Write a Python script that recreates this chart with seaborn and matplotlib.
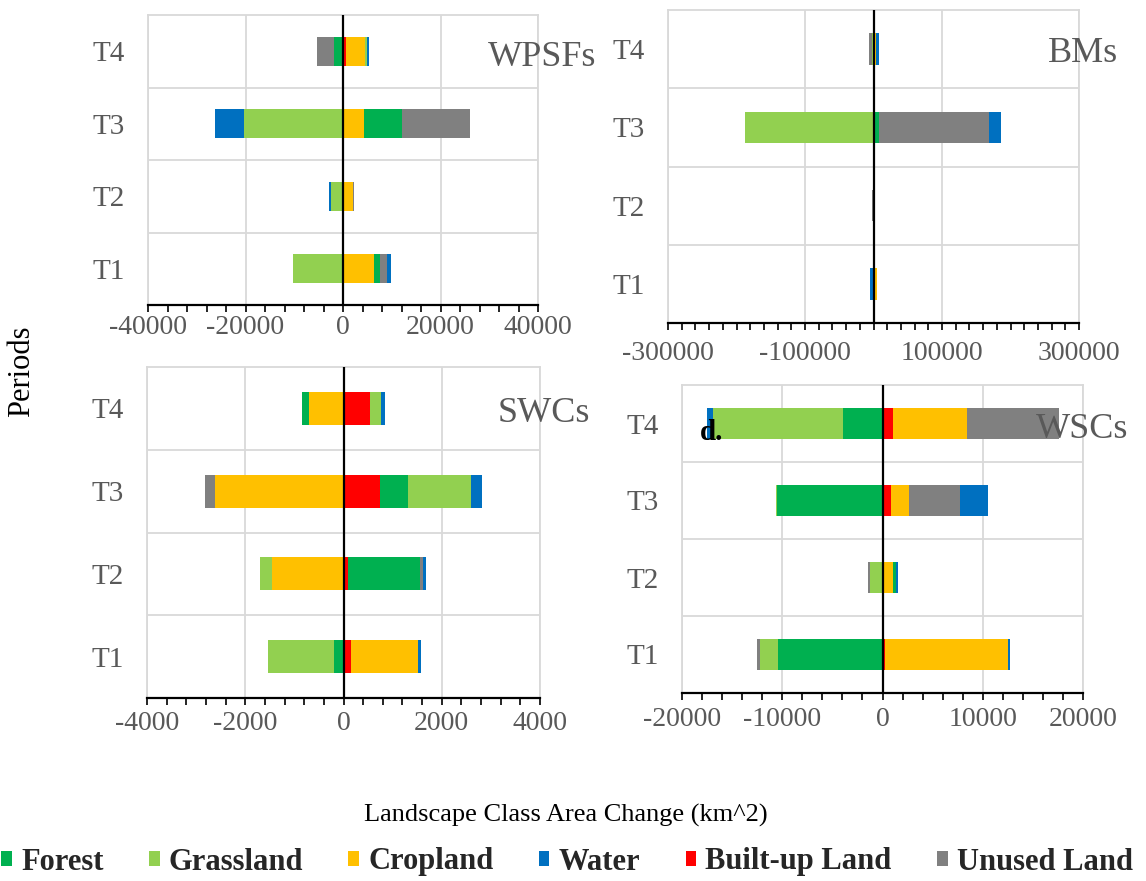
import numpy as np
import pandas as pd
import matplotlib
matplotlib.use("Agg")
import matplotlib.pyplot as plt
from matplotlib.ticker import MultipleLocator, FixedLocator, FuncFormatter
from matplotlib.patches import Patch
import seaborn as sns

# ---------------- data (km^2), periods T1..T4 ----------------
PERIODS = ["T1", "T2", "T3", "T4"]
ORDER = ["T4", "T3", "T2", "T1"]

WPSF_FOREST = [1200, 0, 7700, -1900]
WPSF_GRASS = [-10200, -2400, -20300, 400]
WPSF_CROP = [6300, 2000, 4300, 4000]
WPSF_WATER = [900, -500, -6000, 400]
WPSF_BUILT = [0, 0, 0, 600]
WPSF_UNUSED = [1500, 250, 14100, -3400]

BM_FOREST = [-1000, 0, 7300, 0]
BM_GRASS = [0, 0, -188000, -2900]
BM_CROP = [4400, 0, 0, 3400]
BM_WATER = [-3900, 0, 17900, 3900]
BM_BUILT = [0, 0, 0, 0]
BM_UNUSED = [0, -2900, 161000, -3400]

SWC_FOREST = [-184, 1448, 574, -157]
SWC_GRASS = [-1352, -239, 1284, 240]
SWC_CROP = [1366, -1455, -2610, -697]
SWC_WATER = [68, 68, 225, 75]
SWC_BUILT = [150, 100, 737, 533]
SWC_UNUSED = [0, 68, -205, 0]

WSC_FOREST = [-10420, 370, -10520, -3900]
WSC_GRASS = [-1750, -1240, -100, -13000]
WSC_CROP = [12230, 1000, 1780, 7330]
WSC_WATER = [200, 200, 2790, -570]
WSC_BUILT = [270, 0, 840, 1075]
WSC_UNUSED = [-370, -200, 5100, 9170]

LEGEND_ORDER = ["Forest", "Grassland", "Cropland", "Water", "Built-up Land", "Unused Land"]
STACK_ORDER = ["Built-up Land", "Cropland", "Forest", "Grassland", "Unused Land", "Water"]
COLORS = {
    "Forest": "#00B050",
    "Grassland": "#92D050",
    "Cropland": "#FFC000",
    "Water": "#0070C0",
    "Built-up Land": "#FF0000",
    "Unused Land": "#808080",
}

PANELS = [
    ("WPSFs", {"Forest": WPSF_FOREST, "Grassland": WPSF_GRASS, "Cropland": WPSF_CROP,
               "Water": WPSF_WATER, "Built-up Land": WPSF_BUILT, "Unused Land": WPSF_UNUSED}),
    ("BMs", {"Forest": BM_FOREST, "Grassland": BM_GRASS, "Cropland": BM_CROP,
             "Water": BM_WATER, "Built-up Land": BM_BUILT, "Unused Land": BM_UNUSED}),
    ("SWCs", {"Forest": SWC_FOREST, "Grassland": SWC_GRASS, "Cropland": SWC_CROP,
              "Water": SWC_WATER, "Built-up Land": SWC_BUILT, "Unused Land": SWC_UNUSED}),
    ("WSCs", {"Forest": WSC_FOREST, "Grassland": WSC_GRASS, "Cropland": WSC_CROP,
              "Water": WSC_WATER, "Built-up Land": WSC_BUILT, "Unused Land": WSC_UNUSED}),
]

# ---------------- style ----------------
sns.set_style("white")
plt.rcParams["font.family"] = ["Liberation Serif", "DejaVu Serif"]
plt.rcParams["axes.unicode_minus"] = False

W, H = 1146, 881
fig = plt.figure(figsize=(W / 100, H / 100), dpi=100)
fig.patch.set_facecolor("white")

GRID = "#D9D9D9"
TICKCOL = "#595959"


def px_axes(left, right, top, bottom):
    return fig.add_axes([left / W, 1 - bottom / H, (right - left) / W, (bottom - top) / H])


# (left, right, top, bottom) in pixels, xlim, major ticks, minor step, xlabel pad
LAYOUT = [
    ((148, 538, 15, 305), (-40000, 40000), [-40000, -20000, 0, 20000, 40000], 4000, 2),
    ((668, 1079, 10, 323), (-300000, 300000), [-300000, -100000, 100000, 300000], 20000, 8),
    ((147, 540, 367, 698), (-4000, 4000), [-4000, -2000, 0, 2000, 4000], 400, 4),
    ((682, 1083, 385, 693), (-20000, 20000), [-20000, -10000, 0, 10000, 20000], 2000, 5),
]

TITLE_POS = [(542, 57), (1083, 53), (544, 413), (1082, 430)]

for (name, data), (box, xlim, majors, minor, xpad), tpos in zip(PANELS, LAYOUT, TITLE_POS):
    ax = px_axes(*box)
    for sign in (1, -1):
        running = np.zeros(len(PERIODS))
        cums = []
        for cls in STACK_ORDER:
            v = np.array(data[cls], dtype=float)
            part = np.where(v * sign > 0, v, 0.0)
            running = running + part
            cums.append((cls, running.copy()))
        for cls, cum in reversed(cums):
            df = pd.DataFrame({"Period": PERIODS, "Change": cum})
            sns.barplot(data=df, x="Change", y="Period", order=ORDER, orient="h",
                        color=COLORS[cls], saturation=1, width=0.4, errorbar=None,
                        linewidth=0, ax=ax)
    ax.set_xlim(*xlim)
    ax.set_ylim(3.5, -0.5)
    ax.set_xlabel("")
    ax.set_ylabel("")
    ax.set_axisbelow(True)
    ax.xaxis.set_major_locator(FixedLocator(majors))
    ax.xaxis.set_minor_locator(MultipleLocator(minor))
    ax.xaxis.set_major_formatter(FuncFormatter(lambda v, p: f"{v:.0f}"))
    ax.grid(True, axis="x", which="major", color=GRID, lw=1.3)
    ax.grid(False, axis="y")
    for yb in (0.5, 1.5, 2.5):
        ax.axhline(yb, color=GRID, lw=1.3, zorder=0)
    ax.axvline(0, color="black", lw=1.6, zorder=4)
    for s in ("left", "right", "top"):
        ax.spines[s].set_color(GRID)
        ax.spines[s].set_linewidth(1.3)
    ax.spines["bottom"].set_color("black")
    ax.spines["bottom"].set_linewidth(1.6)
    ax.spines["bottom"].set_zorder(5)
    ax.tick_params(axis="x", which="both", direction="out", length=5, width=1.2,
                   color="black", bottom=True)
    ax.tick_params(axis="x", which="major", labelsize=20, labelcolor=TICKCOL, pad=xpad)
    ax.tick_params(axis="y", length=0, labelsize=21, labelcolor=TICKCOL, pad=17)
    fig.text(tpos[0] / W, 1 - tpos[1] / H, name, fontsize=26, color=TICKCOL,
             ha="center", va="center")

fig.text(712 / W, 1 - 432 / H, "d.", fontsize=21, fontweight="bold", color="black",
         ha="center", va="center")

fig.text(22 / W, 1 - 371 / H, "Periods", rotation=90, fontsize=22, color="black",
         ha="center", va="center")
fig.text(566 / W, 1 - 815 / H, "Landscape Class Area Change (km^2)", fontsize=19,
         color="black", ha="center", va="center")

handles = [Patch(facecolor=COLORS[c], edgecolor="none", label=c) for c in LEGEND_ORDER]
fig.legend(handles=handles, loc="center", bbox_to_anchor=(567 / W, 1 - 862 / H), ncol=6,
           frameon=False, prop={"size": 22, "weight": "bold"}, handlelength=0.35,
           handleheight=0.35, handletextpad=0.3, columnspacing=1.48, borderaxespad=0)

fig.savefig("out.png", dpi=100, facecolor="white")
